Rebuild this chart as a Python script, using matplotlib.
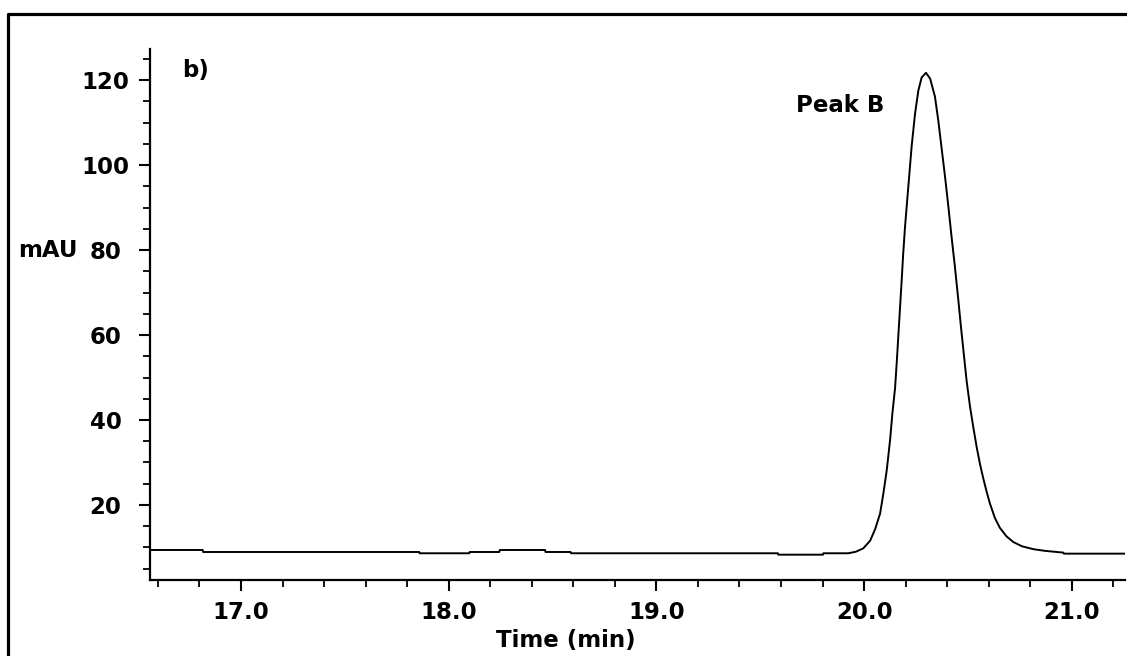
import matplotlib
matplotlib.use("Agg")
import matplotlib.pyplot as plt
from matplotlib.lines import Line2D
from matplotlib.ticker import MultipleLocator, FormatStrFormatter

# chromatogram trace (time in min, absorbance in mAU)
time_min = [16.562, 16.816, 16.818, 17.858, 17.860, 18.099, 18.101, 18.244,
            18.246, 18.464, 18.466, 18.587, 18.589, 19.585, 19.587, 19.802,
            19.804, 19.924, 19.960, 19.996, 20.029, 20.053, 20.077, 20.093,
            20.109, 20.125, 20.136, 20.149, 20.157, 20.165, 20.173, 20.181,
            20.188, 20.197, 20.213, 20.229, 20.245, 20.261, 20.277,
            20.298, 20.318, 20.341, 20.357, 20.373, 20.389, 20.405, 20.421,
            20.437, 20.453, 20.466, 20.480, 20.494, 20.510, 20.526, 20.542,
            20.558, 20.574, 20.590, 20.606, 20.630, 20.654, 20.686, 20.718,
            20.759, 20.815, 20.872, 20.959, 20.962, 21.256]
mau = [9.41, 9.41, 8.94, 8.94, 8.64, 8.64, 8.94, 8.94,
       9.41, 9.41, 8.94, 8.94, 8.64, 8.64, 8.31, 8.31,
       8.64, 8.64, 9.0, 9.8, 11.6, 14.3, 18.0, 22.8,
       28.2, 35.3, 41.5, 47.5, 53.5, 60.0, 66.5, 73.0,
       79.0, 85.5, 95.0, 104.5, 112.0, 117.5, 120.6,
       121.7, 120.3, 116.1, 110.5, 104.0, 97.5, 90.5, 83.1,
       76.1, 68.5, 62.0, 55.5, 49.0, 43.1, 38.2, 33.6,
       29.6, 26.2, 23.1, 20.3, 16.9, 14.6, 12.6, 11.3,
       10.3, 9.6, 9.2, 8.8, 8.55, 8.55]

peak_label = "Peak B"
panel_label = "b)"

W, H = 1127, 656
fig = plt.figure(figsize=(W / 100, H / 100), dpi=100)
ax = fig.add_axes([150 / W, 1 - 580 / H, (1125 - 150) / W, (580 - 49) / H])

ax.plot(time_min, mau, color="black", lw=1.4)

ax.set_xlim(16.562, 21.256)
ax.set_ylim(2.35, 127.3)

for side in ("top", "right"):
    ax.spines[side].set_visible(False)
for side in ("left", "bottom"):
    ax.spines[side].set_linewidth(1.6)

ax.xaxis.set_major_locator(MultipleLocator(1.0))
ax.xaxis.set_minor_locator(MultipleLocator(0.2))
ax.xaxis.set_major_formatter(FormatStrFormatter("%.1f"))
ax.yaxis.set_major_locator(MultipleLocator(20))
ax.yaxis.set_minor_locator(MultipleLocator(5))
ax.set_yticks([20, 40, 60, 80, 100, 120])

ax.tick_params(which="major", length=8, width=1.5, direction="out")
ax.tick_params(which="minor", length=5, width=1.3, direction="out")
ax.tick_params(axis="x", which="major", pad=7)
ax.tick_params(axis="y", which="major", pad=24)

for lab in ax.get_xticklabels() + ax.get_yticklabels():
    lab.set_fontsize(16.5)
    lab.set_fontweight("bold")
for lab in ax.get_yticklabels():
    lab.set_horizontalalignment("center")

fig.text(566 / W, 1 - 640 / H, "Time (min)", ha="center", va="center",
         fontsize=16.5, fontweight="bold")
fig.text(18 / W, 1 - 251 / H, "mAU", ha="left", va="center",
         fontsize=16.5, fontweight="bold")
fig.text(196 / W, 1 - 71 / H, panel_label, ha="center", va="center",
         fontsize=16.5, fontweight="bold")
ax.annotate(peak_label, xy=(20.298, 121.7), xytext=(840 / W, 1 - 105 / H),
            textcoords="figure fraction", ha="center", va="center",
            fontsize=16.5, fontweight="bold")

# outer frame (left and top edges)
fig.add_artist(Line2D([8 / W, 8 / W, 1.0], [0.0, 1 - 13.7 / H, 1 - 13.7 / H],
                      transform=fig.transFigure, color="black", lw=2.3))

fig.savefig("out.png", dpi=100)
